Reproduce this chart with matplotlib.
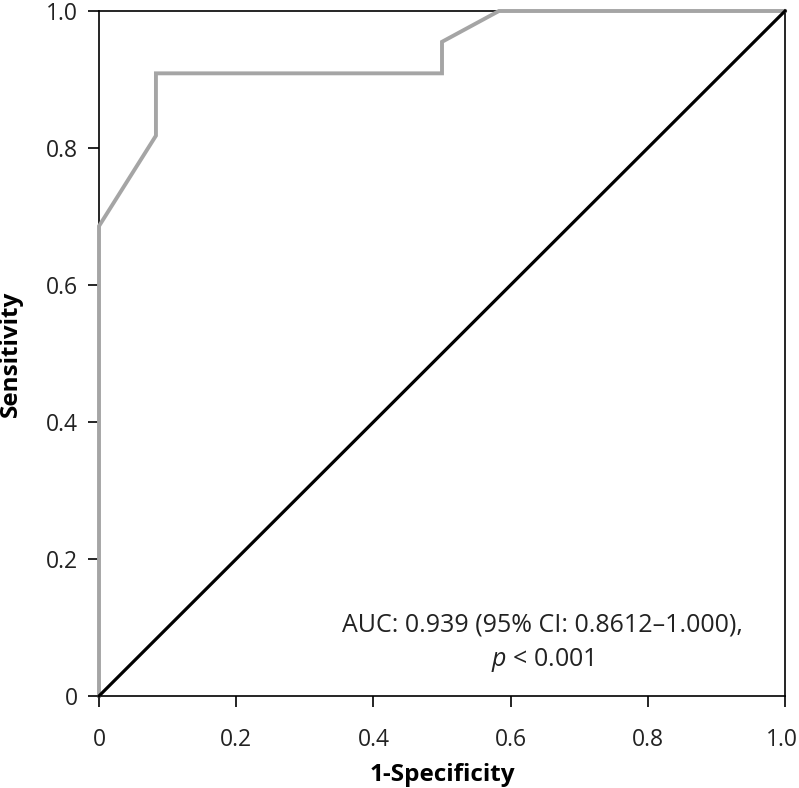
import matplotlib
matplotlib.use("Agg")
import matplotlib.pyplot as plt
from matplotlib.transforms import ScaledTranslation

plt.rcParams['font.family'] = ['Open Sans', 'DejaVu Sans']
plt.rcParams['mathtext.fontset'] = 'custom'
plt.rcParams['mathtext.rm'] = 'Open Sans'
plt.rcParams['mathtext.it'] = 'Open Sans:italic'

# ROC curve
fpr = [0.0, 0.0, 0.083, 0.083, 0.5, 0.5, 0.583, 1.0]
tpr = [0.0, 0.686, 0.818, 0.909, 0.909, 0.955, 1.0, 1.0]
ref_line = [0.0, 1.0]
ticks = [0, 0.2, 0.4, 0.6, 0.8, 1.0]
tick_labels = ["0", "0.2", "0.4", "0.6", "0.8", "1.0"]
auc_text = "AUC: 0.939 (95% CI: 0.8612\u20131.000),\n$\\it{p}$ < 0.001"

fig = plt.figure(figsize=(7.99, 7.88), dpi=100)
ax = fig.add_axes([99 / 799, 1 - 696 / 788, 686 / 799, 685 / 788])

ax.plot(fpr, tpr, color="#a5a5a5", lw=2.8, zorder=3, clip_on=False,
        solid_joinstyle="miter")
ax.plot(ref_line, ref_line, color="black", lw=2.3, zorder=4, clip_on=False)

ax.set_xlim(0, 1)
ax.set_ylim(0, 1)
ax.set_xticks(ticks)
ax.set_xticklabels(tick_labels)
ax.set_yticks(ticks)
ax.set_yticklabels(tick_labels)
for s in ax.spines.values():
    s.set_linewidth(1.2)
ax.tick_params(axis="both", direction="out", length=7.9, width=1.2,
               labelsize=16.5, colors="black", labelcolor="#222222")
ax.tick_params(axis="x", pad=15.5)
ax.tick_params(axis="y", pad=7)

# last x label sits right at the figure edge, nudge it in a little
last = ax.get_xticklabels()[-1]
last.set_transform(last.get_transform() + ScaledTranslation(-3 / 100, 0, fig.dpi_scale_trans))

ax.set_xlabel("1-Specificity", fontsize=17.5, fontweight="bold")
ax.set_ylabel("Sensitivity", fontsize=17.5, fontweight="bold")
ax.xaxis.set_label_coords(0.5, -0.098)
ax.yaxis.set_label_coords(-0.111, 0.5)

ax.text(0.646, 0.077, auc_text, fontsize=18, color="#222222",
        ha="center", va="center", multialignment="center",
        linespacing=1.45)

fig.savefig("out.png", dpi=100)
